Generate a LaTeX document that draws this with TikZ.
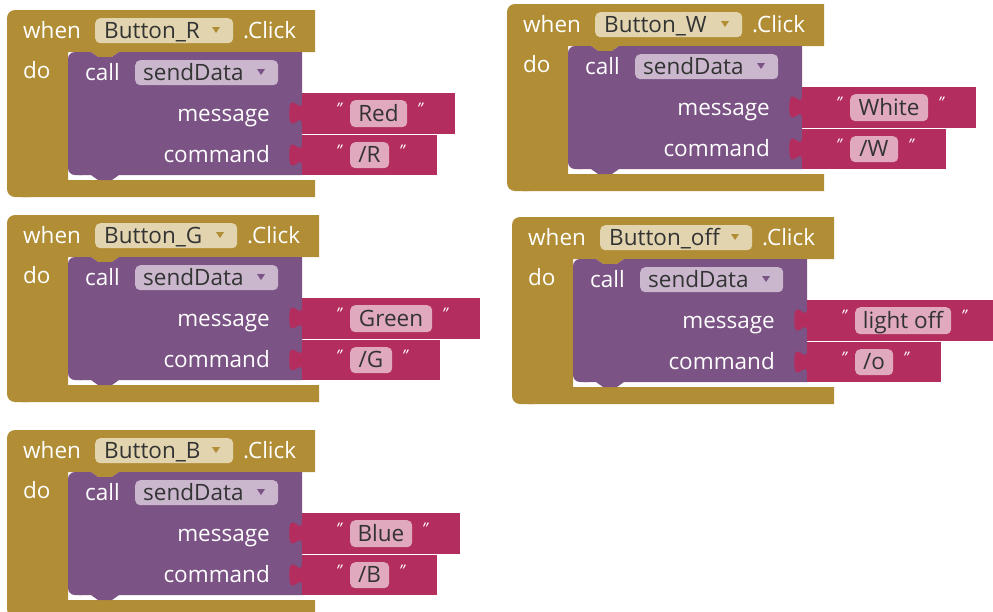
\documentclass[tikz,border=0pt]{standalone}
\usepackage{fontspec}
\setmainfont{Open Sans}
\definecolor{ctrlGold}{HTML}{B18E35}
\definecolor{procPurple}{HTML}{7B5385}
\definecolor{textRed}{HTML}{B32D5E}
\definecolor{goldField}{HTML}{E1D4AE}
\definecolor{purpleField}{HTML}{CAB7CE}
\definecolor{redField}{HTML}{E0A9BE}

% one "when ... .Click do call sendData" block
% #1 name, #2 origin, #3 button, #4 button field width,
% #5 message, #6 its field width, #7 command, #8 its field width
\newcommand{\clickBlock}[8]{%
\begin{scope}[shift={(#2)}]
  % event frame
  \fill[ctrlGold,rounded corners=8pt] (0,0) rectangle (30,187);
  \fill[ctrlGold] (15,0) -- ({#4+170},0) -- ({#4+170},42) -- (112,42) -- (105,47) -- (91,47)
    -- (84,42) -- (61,42) -- (61,170) -- ({#4+170},170) -- ({#4+170},187) -- (15,187) -- cycle;
  % call block
  \fill[procPurple,rounded corners=7pt] (61,42) rectangle (82,165);
  \fill[procPurple] (72,42) -- (84,42) -- (91,47) -- (105,47) -- (112,42) -- (295,42)
    -- (295,165) -- (112,165) -- (105,170) -- (91,170) -- (84,165) -- (72,165) -- cycle;
  % text blocks
  \fill[textRed] (295,83) rectangle ({391+#6},124);
  \fill[textRed] (295,91) .. controls (295,107) and (282.2,78.2) .. (282.2,103)
    .. controls (282.2,127.8) and (295,99) .. (295,115) -- cycle;
  \fill[textRed] (295,125) rectangle ({391+#8},165);
  \fill[textRed] (295,133) .. controls (295,149) and (282.2,120.2) .. (282.2,145)
    .. controls (282.2,169.8) and (295,141) .. (295,157) -- cycle;
  % fields
  \node[fld,fill=goldField,minimum width=#4pt] (#1-btnfld) at (88,8) {};
  \node[fld,fill=purpleField,minimum width=143pt] (#1-procfld) at (128,50) {};
  \node[fld,fill=redField,minimum width=#6pt,minimum height=27pt] (#1-msgfld) at (343,90) {};
  \node[fld,fill=redField,minimum width=#8pt,minimum height=26pt] (#1-cmdfld) at (343,132) {};
  \fill[ctrlGold] ({#4+67},17) -- ({#4+75},17) -- ({#4+71},23) -- cycle;
  \fill[procPurple] (250,59) -- (258,59) -- (254,65) -- cycle;
  % labels
  \node[lbl] (#1-when) at (16,28) {when};
  \node[fldtxt] (#1-btn) at (97,28) {#3};
  \node[lbl] (#1-click) at ({#4+98},28) {.Click};
  \node[lbl] (#1-do) at (16,68) {do};
  \node[lbl] (#1-call) at (78,70) {call};
  \node[fldtxt] (#1-proc) at (136,70) {sendData};
  \node[lbl,anchor=base east] (#1-msglbl) at (263,111) {message};
  \node[lbl,anchor=base east] (#1-cmdlbl) at (263,152) {command};
  \node[fldtxt,anchor=base] (#1-msg) at ({343+#6/2},111) {#5};
  \node[fldtxt,anchor=base] (#1-cmd) at ({343+#8/2},152) {#7};
  \node[qmark] (#1-msgq1) at (329,104) {"};
  \node[qmark] (#1-msgq2) at ({353+#6},104) {"};
  \node[qmark] (#1-cmdq1) at (329,146) {"};
  \node[qmark] (#1-cmdq2) at ({353+#8},146) {"};
\end{scope}}

\begin{document}
\begin{tikzpicture}[
  x=1pt,y=-1pt,
  fld/.style={rectangle,rounded corners=5pt,anchor=north west,inner sep=0pt,minimum height=25pt},
  lbl/.style={anchor=base west,inner sep=0pt,text=white,font=\fontsize{22.5}{26}\selectfont},
  fldtxt/.style={anchor=base west,inner sep=0pt,text=black!80,font=\fontsize{22.5}{26}\selectfont},
  qmark/.style={anchor=base west,inner sep=0pt,text=white,font=\fontsize{16}{18}\selectfont\itshape}
]
  \useasboundingbox (0,0) rectangle (993,611);
  \clip (0,0) rectangle (993,611);
  \clickBlock{btnR}{7,10}{Button\_R}{138}{Red}{57}{/R}{39}
  \clickBlock{btnW}{507,4}{Button\_W}{147}{White}{78}{/W}{48}
  \clickBlock{btnG}{7,215}{Button\_G}{142}{Green}{82}{/G}{42}
  \clickBlock{btnOff}{512,217}{Button\_off}{152}{light off}{96}{/o}{38}
  \clickBlock{btnB}{7,430}{Button\_B}{138}{Blue}{62}{/B}{39}
\end{tikzpicture}
\end{document}
